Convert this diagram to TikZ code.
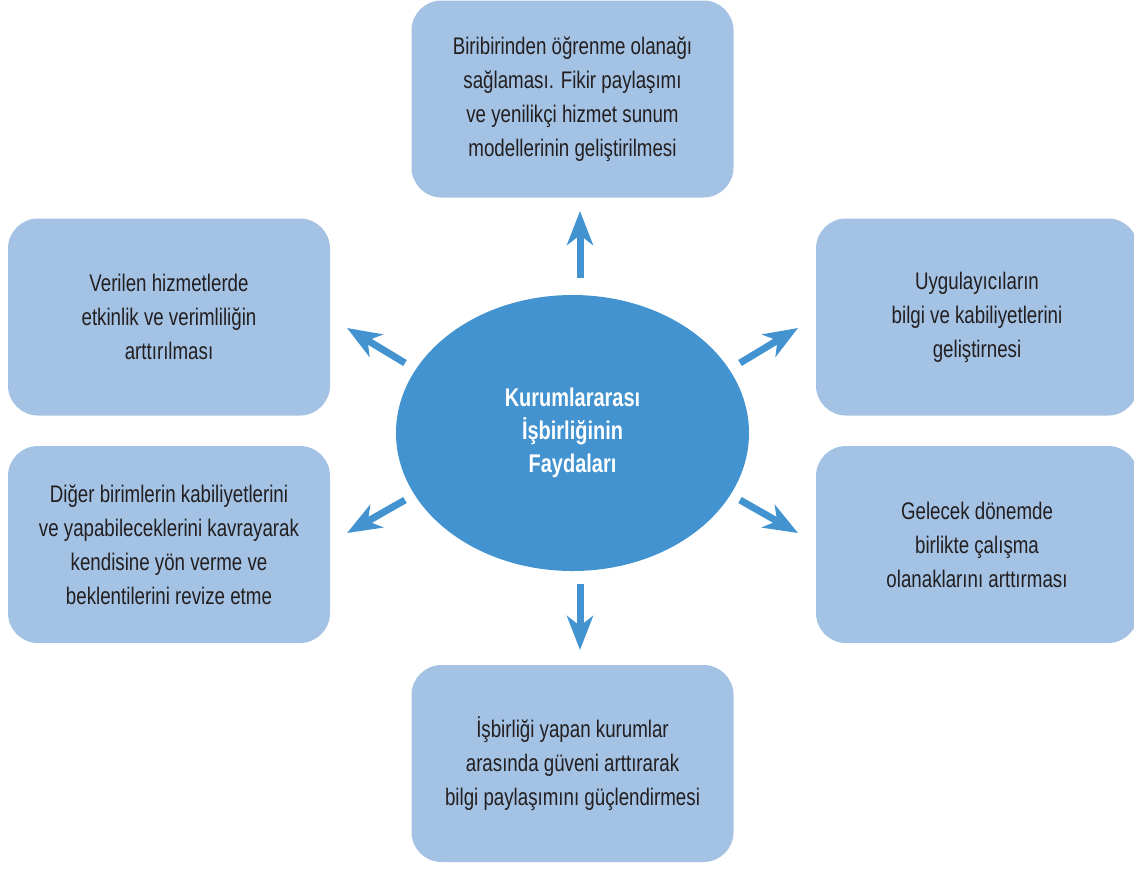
\documentclass[tikz,border=0pt]{standalone}
\usepackage{fontspec}
\setmainfont[FakeStretch=0.78]{Liberation Sans}
\usepackage{xcolor}
\usetikzlibrary{shapes.geometric, arrows.meta, positioning}
\definecolor{boxcolor}{RGB}{163,194,228}
\definecolor{hubcolor}{RGB}{67,147,208}
\definecolor{textcolor}{RGB}{35,31,32}

\begin{document}
\begin{tikzpicture}[
    x=0.5pt, y=-0.5pt,
    benefit/.style={fill=boxcolor, rounded corners=15pt, minimum width=161pt, minimum height=98.5pt, align=center, text=textcolor, font=\fontsize{12}{17}\selectfont},
    hub/.style={ellipse, fill=hubcolor, minimum width=176.5pt, minimum height=138pt, align=center, text=white, font=\bfseries\fontsize{12.8}{16.5}\selectfont},
    spoke/.style={draw=hubcolor, line width=3.5pt, -{Stealth[length=17pt, width=13pt, inset=5pt]}}
]
    \useasboundingbox (0,0) rectangle (1134,869);

    % Center
    \node[hub] (hub) at (572.5,433) {Kurumlararası\\İşbirliğinin\\Faydaları};

    % Benefits
    \node[benefit] (top) at (572.5,99) {Biribirinden öğrenme olanağı\\sağlaması. Fikir paylaşımı\\ve yenilikçi hizmet sunum\\modellerinin geliştirilmesi};
    \node[benefit] (lup) at (169,317) {Verilen hizmetlerde\\etkinlik ve verimliliğin\\arttırılması};
    \node[benefit] (llow) at (169,544.5) {Diğer birimlerin kabiliyetlerini\\ve yapabileceklerini kavrayarak\\kendisine yön verme ve\\beklentilerini revize etme};
    \node[benefit] (rup) at (977,317) {Uygulayıcıların\\bilgi ve kabiliyetlerini\\geliştirnesi};
    \node[benefit] (rlow) at (977,544.5) {Gelecek dönemde\\birlikte çalışma\\olanaklarını arttırması};
    \node[benefit] (bot) at (572.5,763.5) {İşbirliği yapan kurumlar\\arasında güveni arttırarak\\bilgi paylaşımını güçlendirmesi};

    % Arrow ends
    \coordinate (topS) at (580,278);
    \coordinate (topE) at (580,211);
    \coordinate (botS) at (580,584);
    \coordinate (botE) at (580,650);
    \coordinate (lupS) at (405,363);
    \coordinate (lupE) at (347,328);
    \coordinate (llowS) at (405,500);
    \coordinate (llowE) at (347,533);
    \coordinate (rupS) at (740,363);
    \coordinate (rupE) at (798,328);
    \coordinate (rlowS) at (740,500);
    \coordinate (rlowE) at (798,533);

    % Arrows
    \draw[spoke] (topS) -- (topE);
    \draw[spoke] (botS) -- (botE);
    \draw[spoke] (lupS) -- (lupE);
    \draw[spoke] (llowS) -- (llowE);
    \draw[spoke] (rupS) -- (rupE);
    \draw[spoke] (rlowS) -- (rlowE);
\end{tikzpicture}
\end{document}
